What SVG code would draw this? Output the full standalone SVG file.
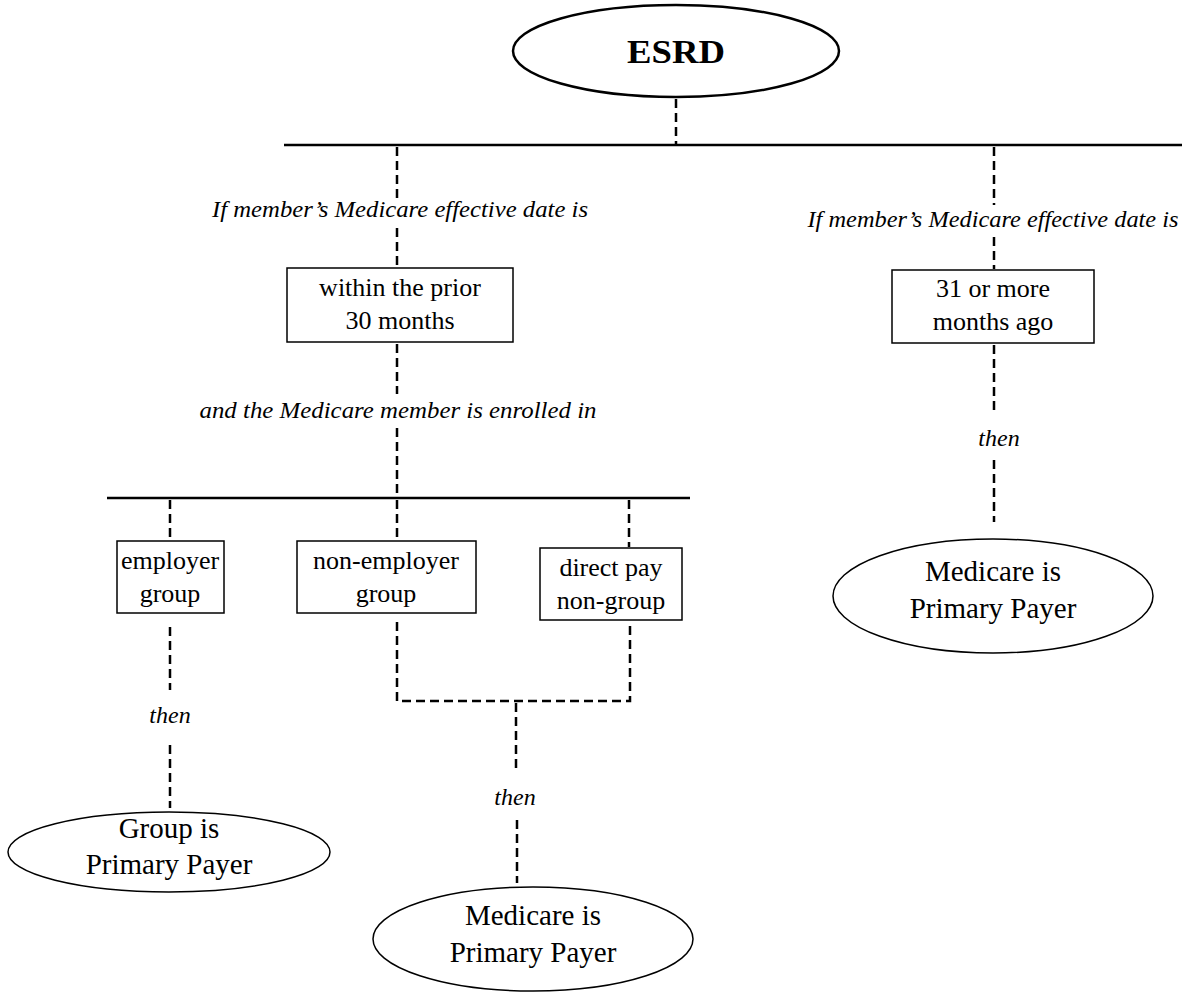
<svg xmlns="http://www.w3.org/2000/svg" width="1199" height="1008" viewBox="0 0 1199 1008">
<style>
.bg{fill:#fff}
.node{fill:#fff;stroke:#000;stroke-width:1.5}
.top{fill:#fff;stroke:#000;stroke-width:2.5}
.bar{stroke:#000;stroke-width:2.5;fill:none}
.dash{stroke:#000;stroke-width:2.5;fill:none;stroke-dasharray:9 5}
.t{font-family:"Liberation Serif","Times New Roman",serif;font-size:26px;fill:#000;text-anchor:middle}
.big{font-family:"Liberation Serif","Times New Roman",serif;font-size:29px;fill:#000;text-anchor:middle}
.it{font-family:"Liberation Serif","Times New Roman",serif;font-size:24px;font-style:italic;fill:#000;text-anchor:middle}
.b{font-family:"Liberation Serif","Times New Roman",serif;font-size:34px;font-weight:bold;fill:#000;text-anchor:middle}
</style>
<rect class="bg" x="0" y="0" width="1199" height="1008"/>
<g id="connectors">
<line class="dash" x1="676" y1="99" x2="676" y2="144"/>
<line class="bar" x1="284" y1="145" x2="1182" y2="145"/>
<line class="dash" x1="397" y1="147" x2="397" y2="200"/>
<line class="dash" x1="397" y1="228" x2="397" y2="266"/>
<line class="dash" x1="994" y1="147" x2="994" y2="205"/>
<line class="dash" x1="994" y1="237" x2="994" y2="269"/>
<line class="dash" x1="397" y1="344" x2="397" y2="394"/>
<line class="dash" x1="397" y1="428" x2="397" y2="497"/>
<line class="bar" x1="107" y1="498" x2="690" y2="498"/>
<line class="dash" x1="170" y1="500" x2="170" y2="540"/>
<line class="dash" x1="397" y1="500" x2="397" y2="540"/>
<line class="dash" x1="629" y1="500" x2="629" y2="547"/>
<line class="dash" x1="994" y1="345" x2="994" y2="413"/>
<line class="dash" x1="994" y1="460" x2="994" y2="522"/>
<line class="dash" x1="170" y1="627" x2="170" y2="690"/>
<line class="dash" x1="170" y1="745" x2="170" y2="808"/>
<path class="dash" d="M397 622 V701 H630 V622"/>
<line class="dash" x1="516" y1="703" x2="516" y2="770"/>
<line class="dash" x1="517" y1="820" x2="517" y2="883"/>
<text class="it" x="400" y="217" textLength="376" lengthAdjust="spacingAndGlyphs">If member’s Medicare effective date is</text>
<text class="it" x="993" y="227" textLength="371" lengthAdjust="spacingAndGlyphs">If member’s Medicare effective date is</text>
<text class="it" x="398" y="418" textLength="397" lengthAdjust="spacingAndGlyphs">and the Medicare member is enrolled in</text>
<text class="it" x="999" y="446">then</text>
<text class="it" x="170" y="723">then</text>
<text class="it" x="515" y="805">then</text>
</g>
<g id="esrd">
<ellipse class="top" cx="676" cy="51" rx="163" ry="46"/>
<text class="b" x="676" y="63" textLength="98" lengthAdjust="spacingAndGlyphs">ESRD</text>
</g>
<g id="within30">
<rect class="node" x="287" y="268" width="226" height="74"/>
<text class="t" x="400" y="296">within the prior</text>
<text class="t" x="400" y="329">30 months</text>
</g>
<g id="over31">
<rect class="node" x="892" y="270" width="202" height="73"/>
<text class="t" x="993" y="297">31 or more</text>
<text class="t" x="993" y="330">months ago</text>
</g>
<g id="employer">
<rect class="node" x="117" y="541" width="107" height="72"/>
<text class="t" x="170" y="569">employer</text>
<text class="t" x="170" y="602">group</text>
</g>
<g id="nonemployer">
<rect class="node" x="297" y="541" width="179" height="72"/>
<text class="t" x="386" y="569">non-employer</text>
<text class="t" x="386" y="602">group</text>
</g>
<g id="directpay">
<rect class="node" x="540" y="548" width="142" height="72"/>
<text class="t" x="611" y="576">direct pay</text>
<text class="t" x="611" y="609">non-group</text>
</g>
<g id="medicare-right">
<ellipse class="node" cx="993" cy="596" rx="160" ry="57"/>
<text class="big" x="993" y="581">Medicare is</text>
<text class="big" x="993" y="618">Primary Payer</text>
</g>
<g id="group-primary">
<ellipse class="node" cx="169" cy="852" rx="161" ry="40"/>
<text class="big" x="169" y="838">Group is</text>
<text class="big" x="169" y="874">Primary Payer</text>
</g>
<g id="medicare-bottom">
<ellipse class="node" cx="533" cy="939" rx="160" ry="52"/>
<text class="big" x="533" y="925">Medicare is</text>
<text class="big" x="533" y="962">Primary Payer</text>
</g>
</svg>
